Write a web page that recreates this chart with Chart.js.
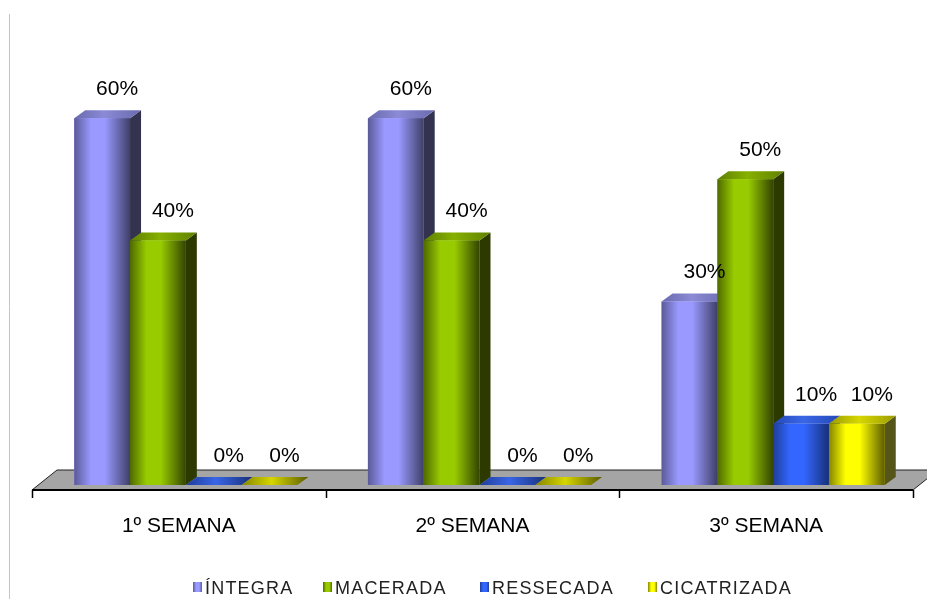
<!DOCTYPE html>
<html>
<head>
<meta charset="utf-8">
<script src="https://cdn.jsdelivr.net/npm/chart.js@4.4.1/dist/chart.umd.min.js"></script>
<style>
  html, body { margin: 0; padding: 0; background: #fff; }
  #wrap { width: 927px; height: 599px; position: relative; }
</style>
</head>
<body>
<div id="wrap"><canvas id="grafico"></canvas></div>
<script>
// dados do gráfico
const semanas = ['1º SEMANA', '2º SEMANA', '3º SEMANA'];
const serieNomes = ['ÍNTEGRA', 'MACERADA', 'RESSECADA', 'CICATRIZADA'];
const integra = [60, 60, 30];
const macerada = [40, 40, 50];
const ressecada = [0, 0, 10];
const cicatrizada = [0, 0, 10];

// tons de cada série: frente (borda esq., centro, borda dir.), lateral e topo
const paletas = [
  { esq: '#5a5a98', base: '#9999ff', dir: '#3f3f68', lado: '#33334f', topoA: '#6a6aae', topoB: '#8a8ad6' },
  { esq: '#4f6a00', base: '#99cc00', dir: '#334400', lado: '#2c3a00', topoA: '#5f8000', topoB: '#86b000' },
  { esq: '#1f3d99', base: '#3366ff', dir: '#18307a', lado: '#172a63', topoA: '#2448b8', topoB: '#3a66e6' },
  { esq: '#858500', base: '#ffff00', dir: '#5c5c00', lado: '#55551a', topoA: '#9c9c00', topoB: '#d6d600' }
];

// profundidade das barras e do piso (em px)
const PROF_X = 11, PROF_Y = 8;
const PISO_X = 25, PISO_Y = 20;
const RECUO_X = 7, RECUO_Y = 5;

const fonte = 'Liberation Sans, Arial, sans-serif';

function desenhaBarra(ctx, b, p) {
  const L = b.x - b.width / 2, R = b.x + b.width / 2, T = b.y, B = b.base;
  const alto = B - T;

  // lateral direita
  if (alto > 0.5) {
    ctx.beginPath();
    ctx.moveTo(R, T);
    ctx.lineTo(R + PROF_X, T - PROF_Y);
    ctx.lineTo(R + PROF_X, B - PROF_Y);
    ctx.lineTo(R, B);
    ctx.closePath();
    ctx.fillStyle = p.lado;
    ctx.fill();
  }

  // topo
  const gt = ctx.createLinearGradient(L, 0, R + PROF_X, 0);
  if (alto > 0.5) {
    gt.addColorStop(0, p.topoA);
    gt.addColorStop(0.45, p.topoB);
    gt.addColorStop(1, p.topoA);
  } else {
    gt.addColorStop(0, p.esq);
    gt.addColorStop(0.45, p.topoB);
    gt.addColorStop(1, p.dir);
  }
  ctx.beginPath();
  ctx.moveTo(L, T);
  ctx.lineTo(L + PROF_X, T - PROF_Y);
  ctx.lineTo(R + PROF_X, T - PROF_Y);
  ctx.lineTo(R, T);
  ctx.closePath();
  ctx.fillStyle = gt;
  ctx.fill();

  // frente
  if (alto > 0.5) {
    const gf = ctx.createLinearGradient(L, 0, R, 0);
    gf.addColorStop(0, p.esq);
    gf.addColorStop(0.3, p.base);
    gf.addColorStop(0.55, p.base);
    gf.addColorStop(1, p.dir);
    ctx.fillStyle = gf;
    ctx.fillRect(L, T, R - L, alto);
  }
}

const efeito3d = {
  id: 'efeito3d',
  beforeDraw(chart) {
    const { ctx, height } = chart;
    ctx.save();
    ctx.strokeStyle = '#c4c4c4';
    ctx.lineWidth = 1;
    ctx.beginPath();
    ctx.moveTo(9.5, 14);
    ctx.lineTo(9.5, height);
    ctx.stroke();
    ctx.restore();
  },
  beforeDatasetsDraw(chart) {
    const { ctx, chartArea: a, scales: { x } } = chart;
    const yF = a.bottom + RECUO_Y, yB = yF - PISO_Y;
    const xL = a.left - RECUO_X, xR = a.right - RECUO_X;
    ctx.save();
    // piso cinza
    ctx.beginPath();
    ctx.moveTo(xL, yF);
    ctx.lineTo(xL + PISO_X, yB);
    ctx.lineTo(xR + PISO_X, yB);
    ctx.lineTo(xR, yF);
    ctx.closePath();
    ctx.fillStyle = '#a5a5a5';
    ctx.fill();
    ctx.strokeStyle = '#222';
    ctx.lineWidth = 1;
    ctx.stroke();
    // borda frontal do eixo
    ctx.beginPath();
    ctx.moveTo(xL, yF);
    ctx.lineTo(xR, yF);
    ctx.lineWidth = 2;
    ctx.strokeStyle = '#000';
    ctx.stroke();
    // marcas entre as categorias
    const passo = x.getPixelForValue(1) - x.getPixelForValue(0);
    ctx.lineWidth = 1.5;
    for (let i = 0; i <= semanas.length; i++) {
      const px = Math.round(x.getPixelForValue(i) - passo / 2 - RECUO_X) + 0.5;
      ctx.beginPath();
      ctx.moveTo(px, yF);
      ctx.lineTo(px, yF + 8);
      ctx.stroke();
    }
    ctx.restore();
  },
  afterDatasetsDraw(chart) {
    const { ctx } = chart;
    ctx.save();
    for (let i = 0; i < semanas.length; i++) {
      chart.data.datasets.forEach((ds, d) => {
        const bar = chart.getDatasetMeta(d).data[i];
        const b = bar.getProps(['x', 'y', 'base', 'width'], true);
        desenhaBarra(ctx, b, paletas[d]);
      });
    }
    // rótulos de valor
    ctx.fillStyle = '#000';
    ctx.font = '21px ' + fonte;
    ctx.textAlign = 'center';
    ctx.textBaseline = 'middle';
    chart.data.datasets.forEach((ds, d) => {
      chart.getDatasetMeta(d).data.forEach((bar, i) => {
        const b = bar.getProps(['x', 'y'], true);
        ctx.fillText(ds.data[i] + '%', b.x + 15, b.y - 29);
      });
    });
    ctx.restore();
  },
  afterDraw(chart) {
    // legenda na parte inferior
    const { ctx } = chart;
    const posicoes = [193, 323, 480, 648];
    ctx.save();
    ctx.font = '18px ' + fonte;
    ctx.letterSpacing = '1.2px';
    ctx.textBaseline = 'middle';
    ctx.textAlign = 'left';
    serieNomes.forEach((nome, d) => {
      const p = paletas[d];
      const x0 = posicoes[d];
      const g = ctx.createLinearGradient(x0, 0, x0 + 9, 0);
      g.addColorStop(0, p.esq);
      g.addColorStop(0.35, p.base);
      g.addColorStop(0.7, p.base);
      g.addColorStop(1, p.esq);
      ctx.fillStyle = g;
      ctx.fillRect(x0, 582, 9, 10);
      ctx.fillStyle = '#222';
      ctx.fillText(nome, x0 + 12, 589);
    });
    ctx.restore();
  }
};

new Chart(document.getElementById('grafico'), {
  type: 'bar',
  data: {
    labels: semanas,
    datasets: [
      { label: serieNomes[0], data: integra, backgroundColor: paletas[0].base },
      { label: serieNomes[1], data: macerada, backgroundColor: paletas[1].base },
      { label: serieNomes[2], data: ressecada, backgroundColor: paletas[2].base },
      { label: serieNomes[3], data: cicatrizada, backgroundColor: paletas[3].base }
    ]
  },
  options: {
    responsive: true,
    maintainAspectRatio: false,
    animation: false,
    barPercentage: 1,
    categoryPercentage: 0.76,
    layout: { padding: { top: 57, left: 39, right: 7, bottom: 0 } },
    plugins: {
      legend: { display: false },
      tooltip: { enabled: false }
    },
    scales: {
      x: {
        grid: { display: false, drawTicks: false },
        border: { display: false },
        ticks: {
          color: '#000',
          font: { family: fonte, size: 21 },
          padding: 29,
          labelOffset: -RECUO_X,
          maxRotation: 0
        },
        afterFit(scale) { scale.height = 114; }
      },
      y: { display: false, min: 0, max: 70 }
    }
  },
  plugins: [efeito3d]
});
</script>
</body>
</html>
